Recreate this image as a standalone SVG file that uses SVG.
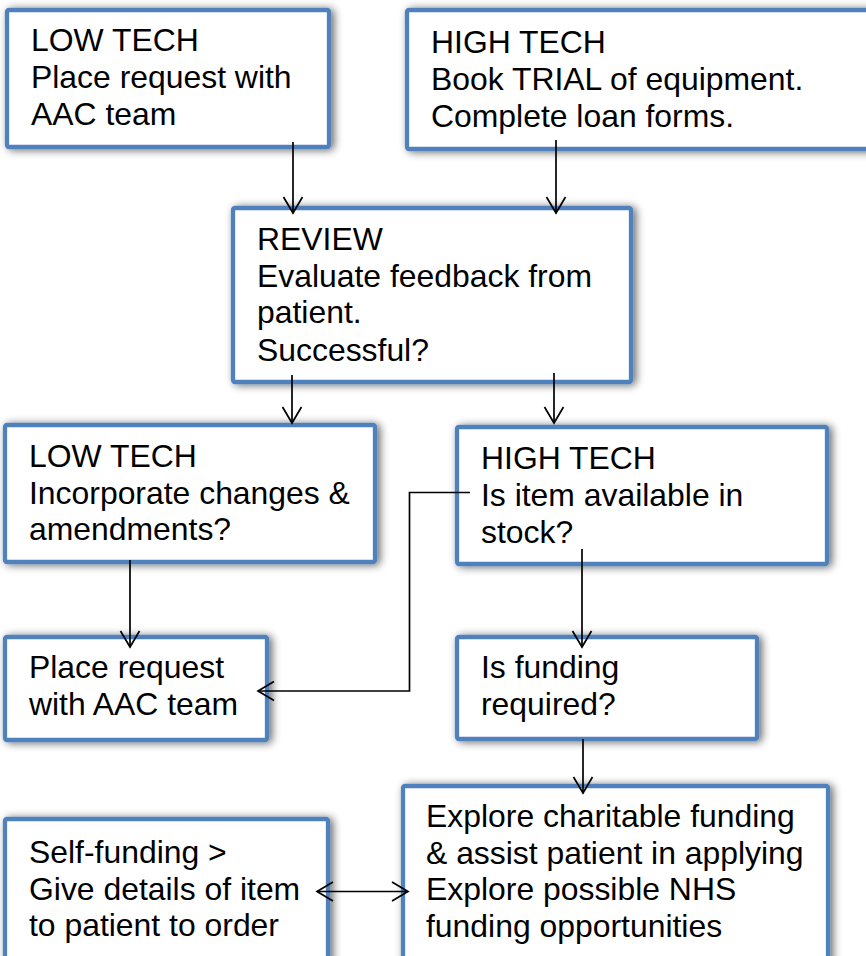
<svg xmlns="http://www.w3.org/2000/svg" width="866" height="956" viewBox="0 0 866 956">
<style>
.box{fill:#fff;stroke:#4F81BD;stroke-width:4.3;filter:url(#sh)}
.t{font-family:"Liberation Sans",Arial,sans-serif;font-size:31.9px;fill:#000}
.c{fill:none;stroke:#000;stroke-width:1.7}
</style>
<defs>
<filter id="sh" x="-10%" y="-15%" width="120%" height="135%">
<feGaussianBlur in="SourceAlpha" stdDeviation="4"/>
<feOffset dx="3" dy="1" result="b"/>
<feComponentTransfer><feFuncA type="linear" slope="0.6"/></feComponentTransfer>
<feMerge><feMergeNode/><feMergeNode in="SourceGraphic"/></feMerge>
</filter>
<marker id="ah" markerUnits="userSpaceOnUse" markerWidth="24" markerHeight="24" viewBox="-20 -12 22 24" refX="0" refY="0" orient="auto-start-reverse">
<path d="M-16,-9.5 L0,0 L-16,9.5" fill="none" stroke="#000" stroke-width="1.7"/>
</marker>
</defs>
<rect width="866" height="956" fill="#fff"/>
<g id="lowtech1">
<rect class="box" x="7" y="10" width="322" height="137" rx="2"/>
<text class="t" x="31" y="51">LOW TECH<tspan x="31" y="88">Place request with</tspan><tspan x="31" y="124.5">AAC team</tspan></text>
</g>
<g id="hightech1">
<rect class="box" x="407" y="10" width="480" height="139" rx="2"/>
<text class="t" x="431" y="53">HIGH TECH<tspan x="431" y="89.5">Book TRIAL of equipment.</tspan><tspan x="431" y="126.5">Complete loan forms.</tspan></text>
</g>
<g id="review">
<rect class="box" x="233" y="208" width="398" height="174" rx="2"/>
<text class="t" x="257" y="250">REVIEW<tspan x="257" y="286.7">Evaluate feedback from</tspan><tspan x="257" y="323.4">patient.</tspan><tspan x="257" y="360.5">Successful?</tspan></text>
</g>
<g id="lowtech2">
<rect class="box" x="5" y="425" width="370" height="137" rx="2"/>
<text class="t" x="29" y="467">LOW TECH<tspan x="29" y="503.5">Incorporate changes &amp;</tspan><tspan x="29" y="540">amendments?</tspan></text>
</g>
<g id="hightech2">
<rect class="box" x="457" y="427" width="370" height="137" rx="2"/>
<text class="t" x="481" y="469">HIGH TECH<tspan x="481" y="505.7">Is item available in</tspan><tspan x="481" y="542.5">stock?</tspan></text>
</g>
<g id="placerequest">
<rect class="box" x="5" y="637" width="262" height="103" rx="2"/>
<text class="t" x="29" y="678">Place request<tspan x="29" y="715">with AAC team</tspan></text>
</g>
<g id="funding">
<rect class="box" x="457" y="637" width="300" height="102" rx="2"/>
<text class="t" x="481" y="678">Is funding<tspan x="481" y="715">required?</tspan></text>
</g>
<g id="selffunding">
<rect class="box" x="5" y="819" width="323" height="160" rx="2"/>
<text class="t" x="29" y="863">Self-funding &gt;<tspan x="29" y="900">Give details of item</tspan><tspan x="29" y="935.5">to patient to order</tspan></text>
</g>
<g id="explore">
<rect class="box" x="403" y="786" width="425" height="200" rx="2"/>
<text class="t" x="426" y="827">Explore charitable funding<tspan x="426" y="863.5">&amp; assist patient in applying</tspan><tspan x="426" y="900">Explore possible NHS</tspan><tspan x="426" y="936.7">funding opportunities</tspan></text>
</g>
<g id="connectors">
<path class="c" d="M293,142 V213" marker-end="url(#ah)"/>
<path class="c" d="M556,140 V213" marker-end="url(#ah)"/>
<path class="c" d="M292,375 V423" marker-end="url(#ah)"/>
<path class="c" d="M554,373 V423" marker-end="url(#ah)"/>
<path class="c" d="M130,560 V647" marker-end="url(#ah)"/>
<path class="c" d="M582,549 V647" marker-end="url(#ah)"/>
<path class="c" d="M470,492.5 H409.5 V691 H258" marker-end="url(#ah)"/>
<path class="c" d="M583,739 V793" marker-end="url(#ah)"/>
<path class="c" d="M317,891.5 H408" marker-start="url(#ah)" marker-end="url(#ah)"/>
</g>
</svg>
